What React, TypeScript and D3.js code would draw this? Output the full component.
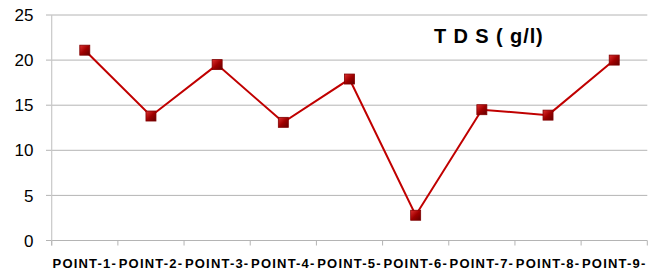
import React from "react";
import * as d3 from "d3";

const categories = ["POINT-1-", "POINT-2-", "POINT-3-", "POINT-4-", "POINT-5-", "POINT-6-", "POINT-7-", "POINT-8-", "POINT-9-"];
const tdsValues = [21.1, 13.8, 19.5, 13.1, 17.9, 2.8, 14.5, 13.9, 20.0];
const yTicks = [0, 5, 10, 15, 20, 25];
const seriesTitle = "T D S ( g/l)";

const W = 655, H = 272;
const left = 51.7, right = 647.3, top = 15, bottom = 240.5;

export default function App() {
  const x = d3.scaleBand<string>().domain(categories).range([left, right]).padding(0);
  const y = d3.scaleLinear().domain([0, 25]).range([bottom, top]);
  const line = d3.line<number>().x((_, i) => x(categories[i])! + x.bandwidth() / 2).y(d => y(d));
  const ticksX = [...categories.map(c => x(c)!), right];
  return (
    <svg width={W} height={H} style={{ position: "absolute", left: 0, top: 0, background: "#fff" }}>
      <defs>
        <linearGradient id="mk" x1="0" y1="0" x2="1" y2="1">
          <stop offset="0" stopColor="#e03030" />
          <stop offset="0.5" stopColor="#a00000" />
          <stop offset="1" stopColor="#600000" />
        </linearGradient>
      </defs>
      {yTicks.map(t => (
        <g key={t}>
          <line x1={46} x2={right} y1={y(t)} y2={y(t)} stroke="#b4b4b4" strokeWidth={1} />
          <text x={33.5} y={y(t)} dy="0.36em" textAnchor="end" fontFamily="Liberation Sans, Arial, sans-serif" fontSize={17} fill="#000">{t}</text>
        </g>
      ))}
      <line x1={left} x2={left} y1={top} y2={bottom + 5} stroke="#c8c8c8" strokeWidth={1.2} />
      {ticksX.map((tx, i) => (
        <line key={i} x1={tx} x2={tx} y1={bottom} y2={bottom + 5} stroke="#b4b4b4" strokeWidth={1} />
      ))}
      {categories.map(c => (
        <text key={c} x={x(c)! + x.bandwidth() / 2} y={268.3} textAnchor="middle" fontFamily="Liberation Sans, Arial, sans-serif" fontWeight="bold" fontSize={13} letterSpacing={1.2} fill="#000">{c}</text>
      ))}
      <path d={line(tdsValues) || ""} fill="none" stroke="#c00000" strokeWidth={2} />
      {tdsValues.map((v, i) => {
        const cx = x(categories[i])! + x.bandwidth() / 2;
        return <rect key={i} x={cx - 5} y={y(v) - 5} width={10} height={10} fill="url(#mk)" stroke="#800000" strokeWidth={0.8} />;
      })}
      <text x={434} y={42.7} fontFamily="Liberation Sans, Arial, sans-serif" fontWeight="bold" fontSize={20} letterSpacing={0.9} fill="#000">{seriesTitle}</text>
    </svg>
  );
}
